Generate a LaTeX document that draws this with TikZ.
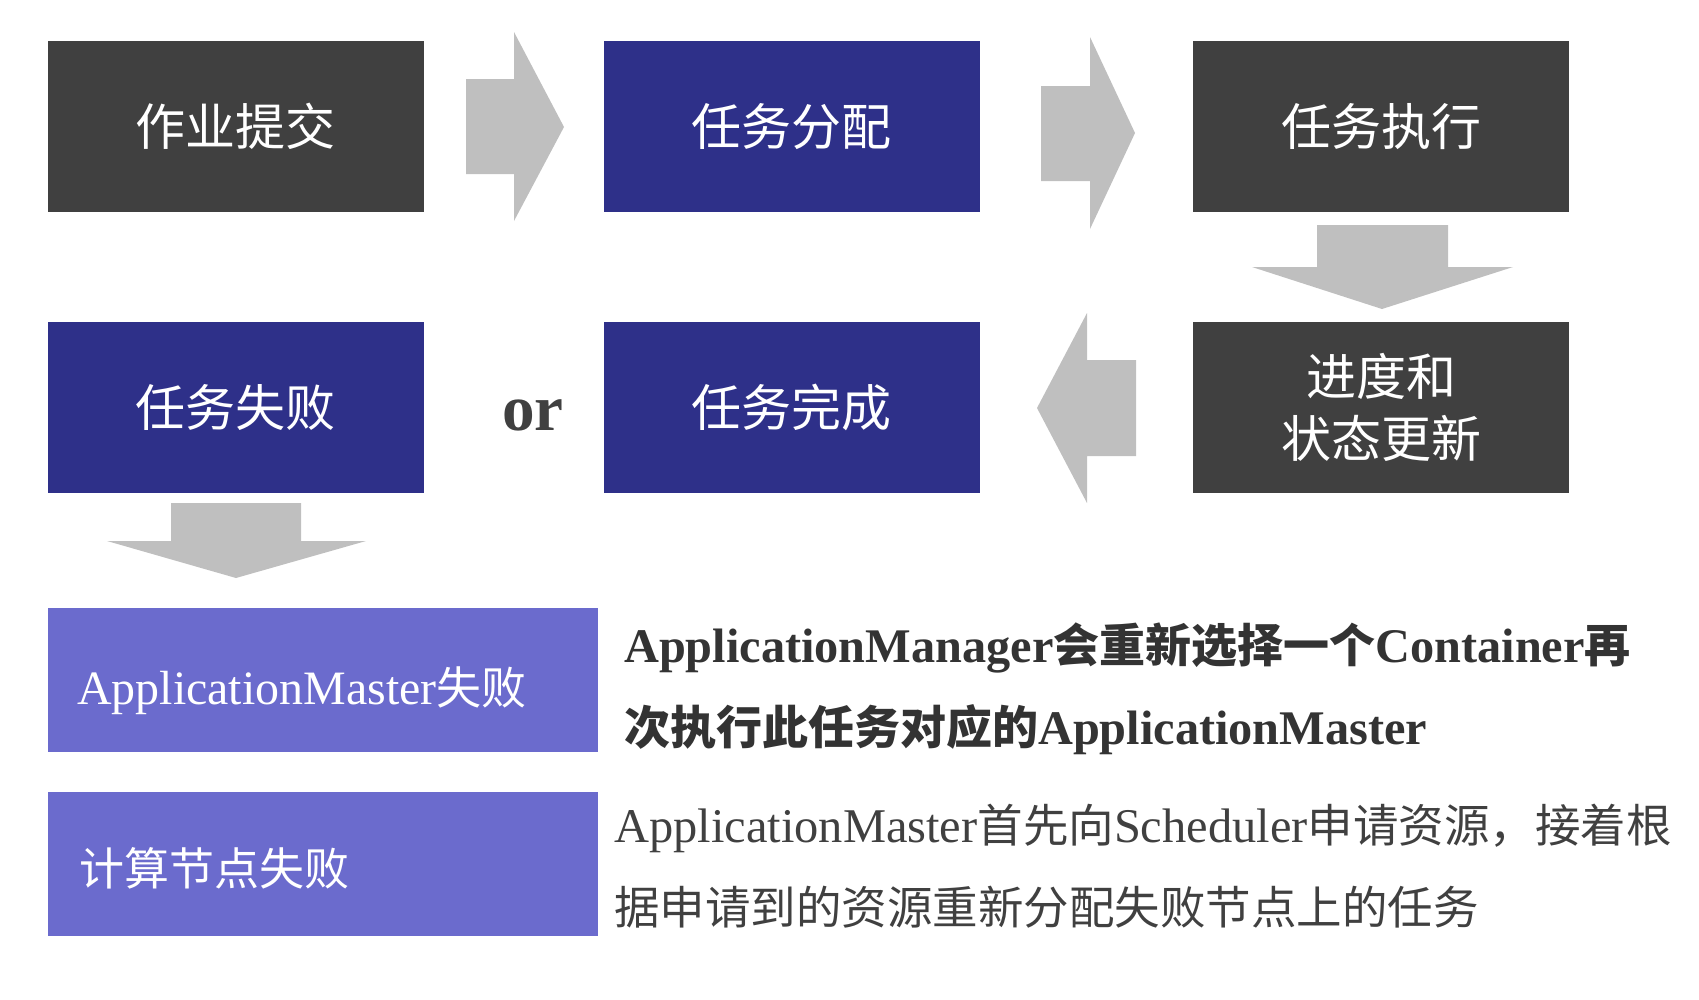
\documentclass[tikz,border=0pt]{standalone}
\usepackage{fontspec}
\setmainfont{Noto Sans CJK SC}
\newfontfamily\lat{Liberation Serif}[Scale=1.05]
\newfontfamily\latr{Liberation Serif}[Scale=1.065]
\definecolor{darkbox}{HTML}{404040}
\definecolor{navy}{HTML}{2E3089}
\definecolor{lightbox}{HTML}{6B6BCD}
\definecolor{arrowgray}{HTML}{BFBFBF}
\definecolor{txtdark}{HTML}{333333}
\definecolor{txtgray}{HTML}{404040}
\begin{document}
\begin{tikzpicture}[x=1pt,y=-1pt,
  box/.style={inner sep=0pt, outer sep=0pt, minimum width=376pt, minimum height=171pt, text=white, font=\fontsize{50}{62}\selectfont, align=center},
  wide/.style={inner sep=0pt, outer sep=0pt, minimum width=550pt, minimum height=144pt, fill=lightbox},
  blk/.style={fill=arrowgray, draw=none},
  line/.style={inner sep=0pt, anchor=base west}
]
\useasboundingbox (0,0) rectangle (1699,999);
% top row
\node[box, fill=darkbox] (submit) at (235.7,126.3) {作业提交};
\node[box, fill=navy] (assign) at (791.5,126.3) {任务分配};
\node[box, fill=darkbox] (exec) at (1381,126.3) {任务执行};
% second row
\node[box, fill=navy] (fail) at (235.7,407.6) {任务失败};
\node[box, fill=navy] (done) at (791.5,407.6) {任务完成};
\node[box, fill=darkbox] (status) at (1381,407.6) {进度和\\状态更新};
\node[inner sep=0pt, anchor=base, text=txtgray, font=\lat\bfseries\fontsize{62}{70}\selectfont] (or) at (533,430) {or};
% block arrows
\path[blk] (466,79) -- (514,79) -- (514,32) -- (564,127) -- (514,221) -- (514,174) -- (466,174) -- cycle;
\path[blk] (1041,86) -- (1090,86) -- (1090,37) -- (1135,133) -- (1090,229) -- (1090,181) -- (1041,181) -- cycle;
\path[blk] (1317,225) -- (1448,225) -- (1448,267) -- (1513,267) -- (1382,309) -- (1252,267) -- (1317,267) -- cycle;
\path[blk] (1136,360) -- (1087,360) -- (1087,313) -- (1037,408) -- (1087,503) -- (1087,456) -- (1136,456) -- cycle;
\path[blk] (171,503) -- (301,503) -- (301,541) -- (366,541) -- (236,578) -- (107,541) -- (171,541) -- cycle;
% bottom boxes
\node[wide] (amfail) at (322.8,680.3) {};
\node[wide] (nodefail) at (322.8,863.7) {};
\node[line, text=white, font=\fontsize{45}{50}\selectfont] (amlabel) at (77,704.7) {{\latr ApplicationMaster}失败};
\node[line, text=white, font=\fontsize{45}{50}\selectfont] (nflabel) at (79,885) {计算节点失败};
% descriptions
\node[line, text=txtdark, font=\bfseries\fontsize{46}{50}\selectfont] (d1) at (624,662.5) {{\lat ApplicationManager}会重新选择一个{\lat Container}再};
\node[line, text=txtdark, font=\bfseries\fontsize{46}{50}\selectfont] (d2) at (624,744.5) {次执行此任务对应的{\lat ApplicationMaster}};
\node[line, text=txtgray, font=\fontsize{45.5}{50}\selectfont] (d3) at (614,842.3) {{\latr ApplicationMaster}首先向{\latr Scheduler}申请资源，接着根};
\node[line, text=txtgray, font=\fontsize{45.5}{50}\selectfont] (d4) at (614,924.3) {据申请到的资源重新分配失败节点上的任务};
\end{tikzpicture}
\end{document}
